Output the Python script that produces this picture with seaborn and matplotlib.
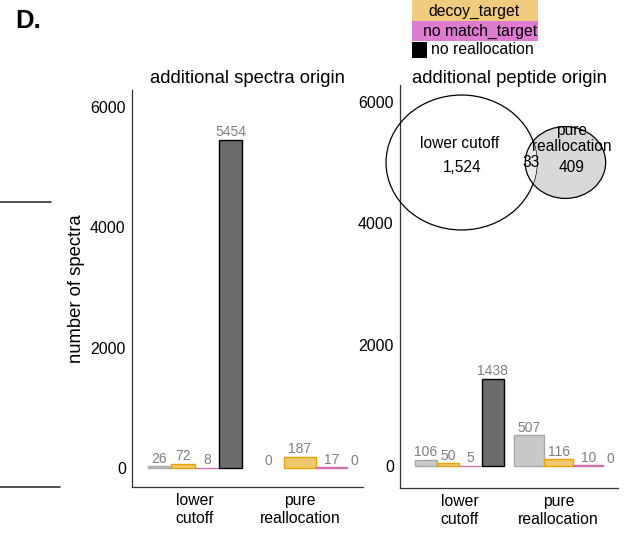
import numpy as np
import pandas as pd
import matplotlib
matplotlib.use("Agg")
import matplotlib.pyplot as plt
from matplotlib.colors import to_rgba
from matplotlib.patches import Ellipse, Rectangle
import seaborn as sns

# ---- data -------------------------------------------------------------
methods = ["lower cutoff", "pure reallocation"]
method_labels = ["lower\ncutoff", "pure\nreallocation"]
origins = ["target_target", "decoy_target", "no match_target", "no reallocation"]

spectra_lower = [26, 72, 8, 5454]
spectra_pure = [0, 187, 17]
spectra_pure_none = 0

peptide_lower = [106, 50, 5, 1438]
peptide_pure = [507, 116, 10]
peptide_pure_none = 0

y_ticks = [0, 2000, 4000, 6000]

venn_names = ["lower cutoff", "pure\nreallocation"]
venn_only_lower = 1524
venn_both = 33
venn_only_pure = 409

legend_items = ["decoy_target", "no match_target", "no reallocation"]

# ---- style ------------------------------------------------------------
fill = {"target_target": "#c9c9c9", "decoy_target": "#f0c86e",
        "no match_target": "#e07bc4", "no reallocation": "#6b6b6b"}
edge = {"target_target": "#a8a8a8", "decoy_target": "#e8a200",
        "no match_target": "#d070b0", "no reallocation": "#000000"}
legend_fill = {"decoy_target": "#f1cb7d", "no match_target": "#df7bd0",
               "no reallocation": "#000000"}
label_grey = "#7f7f7f"

sns.set_theme(style="white")
plt.rcParams["font.family"] = ["Liberation Sans", "DejaVu Sans"]
plt.rcParams["text.color"] = "black"
plt.rcParams["axes.labelcolor"] = "black"
plt.rcParams["axes.titlecolor"] = "black"

W, H = 626, 537
fig = plt.figure(figsize=(W / 100, H / 100), dpi=100)


def px_axes(x0, y0, x1, y1):
    """Axes placed by pixel box (top-left origin)."""
    return fig.add_axes([x0 / W, 1 - y1 / H, (x1 - x0) / W, (y1 - y0) / H])


def draw_bars(ax, lower, pure, pure_none, ylim, title, title_pad):
    df_l = pd.DataFrame({"method": methods[0], "origin": origins, "n": lower})
    df_p = pd.DataFrame({"method": methods[1], "origin": origins[:3], "n": pure})
    for df, levels in ((df_l, origins), (df_p, origins[:3])):
        sns.barplot(data=df, x="method", y="n", hue="origin", order=methods,
                    hue_order=levels, palette=[fill[o] for o in levels],
                    width=0.9, dodge=True, errorbar=None, legend=False,
                    saturation=1, linewidth=1.0, ax=ax)
    lookup = {to_rgba(fill[o]): o for o in origins}
    for cont in ax.containers:
        face = tuple(np.round(cont.patches[0].get_facecolor(), 4))
        level = min(lookup, key=lambda c: sum(abs(a - b) for a, b in zip(c, face)))
        for bar in cont.patches:
            bar.set_edgecolor(edge[lookup[level]])
            bar.set_linewidth(1.0 if bar.get_height() > 0 else 0)
        ax.bar_label(cont, fmt="%g", padding=0.3, color=label_grey, fontsize=10)
    # the pure reallocation group has no "no reallocation" bar
    ax.annotate(f"{pure_none:g}", xy=(1.52, pure_none), xytext=(0, 0.3),
                textcoords="offset points", ha="center", va="bottom",
                color=label_grey, fontsize=10)

    ax.set_xlim(-0.6, 1.6)
    ax.set_ylim(*ylim)
    ax.set_yticks(y_ticks)
    ax.set_yticklabels([str(t) for t in y_ticks])
    ax.set_xticks([0, 1])
    ax.set_xticklabels(method_labels, linespacing=1.25)
    ax.set_xlabel("")
    ax.set_ylabel("")
    for side in ("top", "right"):
        ax.spines[side].set_visible(False)
    for side in ("left", "bottom"):
        ax.spines[side].set_color("#333333")
        ax.spines[side].set_linewidth(0.9)
    ax.tick_params(axis="both", length=2.5, width=0.8, color="#555555",
                   labelcolor="black", pad=2)
    ax.tick_params(axis="y", labelsize=11.5)
    ax.tick_params(axis="x", labelsize=11.3, pad=1.5)
    ax.grid(False)
    ax.set_title(title, fontsize=13.3, pad=title_pad, color="black")


ax1 = px_axes(132, 90, 363, 487)
draw_bars(ax1, spectra_lower, spectra_pure, spectra_pure_none,
          (-316, 6282), "additional spectra origin", 5)
ax1.set_ylabel("number of spectra", fontsize=13.3, color="black")
ax1.yaxis.set_label_coords(-0.205, 0.5)

ax2 = px_axes(400, 85, 618, 488)
draw_bars(ax2, peptide_lower, peptide_pure, peptide_pure_none,
          (-362, 6280), "additional peptide origin", 1.5)

# ---- overlay in pixel coordinates: venn, legend, panel letter ---------
ov = fig.add_axes([0, 0, 1, 1], zorder=10)
ov.set_xlim(0, W)
ov.set_ylim(H, 0)
ov.axis("off")
ov.patch.set_alpha(0)


def lens_area(r1, r2, d):
    if d >= r1 + r2:
        return 0.0
    if d <= abs(r1 - r2):
        return np.pi * min(r1, r2) ** 2
    a1 = r1 ** 2 * np.arccos((d ** 2 + r1 ** 2 - r2 ** 2) / (2 * d * r1))
    a2 = r2 ** 2 * np.arccos((d ** 2 + r2 ** 2 - r1 ** 2) / (2 * d * r2))
    a3 = 0.5 * np.sqrt((-d + r1 + r2) * (d + r1 - r2) * (d - r1 + r2) * (d + r1 + r2))
    return a1 + a2 - a3


# area-proportional circles
r_low = np.sqrt((venn_only_lower + venn_both) / np.pi)
r_pure = np.sqrt((venn_only_pure + venn_both) / np.pi)
lo, hi = abs(r_low - r_pure), r_low + r_pure
for _ in range(80):
    mid = 0.5 * (lo + hi)
    if lens_area(r_low, r_pure, mid) > venn_both:
        lo = mid
    else:
        hi = mid
dist = 0.5 * (lo + hi)

k, squash = 3.39, 0.894
cx1, cy = 461.5, 162.5
cx2 = cx1 + k * dist
big = Ellipse((cx1, cy), 2 * k * r_low, 2 * k * r_low * squash,
              facecolor="none", edgecolor="black", linewidth=0.9)
small = Ellipse((cx2, cy), 2 * k * r_pure, 2 * k * r_pure * squash,
                facecolor="#d9d9d9", edgecolor="none")
lens = Ellipse((cx2, cy), 2 * k * r_pure, 2 * k * r_pure * squash,
               facecolor="#ececec", edgecolor="none")
small_edge = Ellipse((cx2, cy), 2 * k * r_pure, 2 * k * r_pure * squash,
                     facecolor="none", edgecolor="black", linewidth=0.9)
ov.add_patch(small)
ov.add_patch(big)
ov.add_patch(lens)
lens.set_clip_path(big)
ov.add_patch(small_edge)

vkw = dict(ha="center", va="center", fontsize=11.2, color="black")
ov.text(cx1 - 2, cy - 19, venn_names[0], **vkw)
ov.text(cx1 + 1, cy + 5, f"{venn_only_lower:,}", **vkw)
ov.text(cx1 + k * r_low + (cx2 - k * r_pure - cx1 - k * r_low) / 2, cy,
        f"{venn_both:,}", **vkw)
ov.text(cx2 + 6, cy - 24, venn_names[1], linespacing=1.15, **vkw)
ov.text(cx2 + 6, cy + 5, f"{venn_only_pure:,}", **vkw)

# colour key
ov.add_patch(Rectangle((412, 0), 126, 20.5, facecolor=legend_fill[legend_items[0]],
                       edgecolor="none"))
ov.add_patch(Rectangle((412, 21), 126, 20, facecolor=legend_fill[legend_items[1]],
                       edgecolor="none"))
ov.add_patch(Rectangle((412, 42), 15, 16, facecolor=legend_fill[legend_items[2]],
                       edgecolor="none"))
ov.text(474, 11, legend_items[0], ha="center", va="center", fontsize=11.3)
ov.text(480, 31, legend_items[1], ha="center", va="center", fontsize=11.3)
ov.text(431, 50, legend_items[2], ha="left", va="center", fontsize=11.3)

# panel letter and neighbouring panel rules
ov.text(15, 21, "D.", ha="left", va="center", fontsize=18.5, fontweight="bold")
ov.plot([0, 51], [202, 202], color="#333333", linewidth=1.2)
ov.plot([0, 60], [487, 487], color="#333333", linewidth=1.2)

fig.savefig("out.png", dpi=100)
